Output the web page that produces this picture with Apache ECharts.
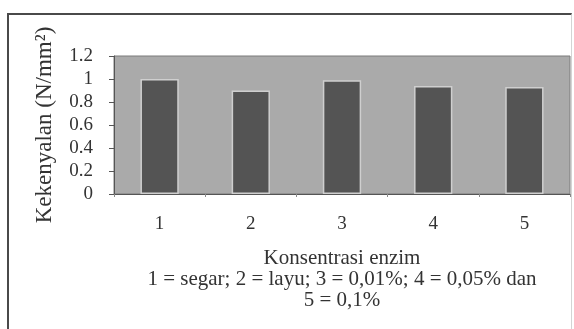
<!DOCTYPE html>
<html>
<head>
<meta charset="utf-8">
<script src="https://cdn.jsdelivr.net/npm/echarts@6/dist/echarts.min.js"></script>
<style>
  html, body { margin: 0; padding: 0; background: #fff; }
  #chart { width: 574px; height: 329px; position: relative; }
  #frame {
    position: absolute; left: 7px; top: 13px; width: 562px; height: 330px;
    border-top: 2px solid #4a4a4a; border-left: 2px solid #4a4a4a;
    border-right: 1px solid #d4d4d4; pointer-events: none;
  }
</style>
</head>
<body>
<div id="chart"></div>
<div id="frame"></div>
<script>
// data
const categories = ['1', '2', '3', '4', '5'];
const kekenyalan = [1.0, 0.9, 0.99, 0.94, 0.93];
const yName = 'Kekenyalan (N/mm\u00B2)';
const xName = 'Konsentrasi enzim\n1 = segar; 2 = layu; 3 = 0,01%; 4 = 0,05% dan\n5 = 0,1%';

const serif = '"Liberation Serif", "DejaVu Serif", serif';
const chart = echarts.init(document.getElementById('chart'), null, { renderer: 'canvas' });

chart.setOption({
    animation: false,
    textStyle: { fontFamily: serif, color: '#333' },
    grid: {
        left: 114,
        right: 4,
        top: 56,
        bottom: 135,
        show: true,
        backgroundColor: '#aaaaaa',
        borderColor: '#7a7a7a',
        borderWidth: 1,
    },
    xAxis: {
        type: 'category',
        data: categories,
        name: xName,
        nameLocation: 'middle',
        nameGap: 54,
        nameTextStyle: { fontFamily: serif, fontSize: 21, lineHeight: 21, color: '#333', align: 'center' },
        axisLine: { lineStyle: { color: '#555', width: 1 } },
        axisTick: { show: true, length: 3, lineStyle: { color: '#888' } },
        axisLabel: { fontFamily: serif, fontSize: 19, color: '#333', margin: 21 },
    },
    yAxis: {
        type: 'value',
        min: 0,
        max: 1.2,
        interval: 0.2,
        name: yName,
        nameLocation: 'middle',
        nameGap: 58,
        nameTextStyle: { fontFamily: serif, fontSize: 23, color: '#333' },
        axisLine: { show: true, lineStyle: { color: '#555', width: 1 } },
        axisTick: { show: true, length: 5, lineStyle: { color: '#555' } },
        axisLabel: { fontFamily: serif, fontSize: 19, color: '#333', margin: 21 },
        splitLine: { show: false },
    },
    series: [
        {
            type: 'bar',
            data: kekenyalan,
            barWidth: '42%',
            itemStyle: {
                color: '#545454',
                borderColor: '#cfcfcf',
                borderWidth: 1.5,
            },
        },
    ],
});
</script>
</body>
</html>
